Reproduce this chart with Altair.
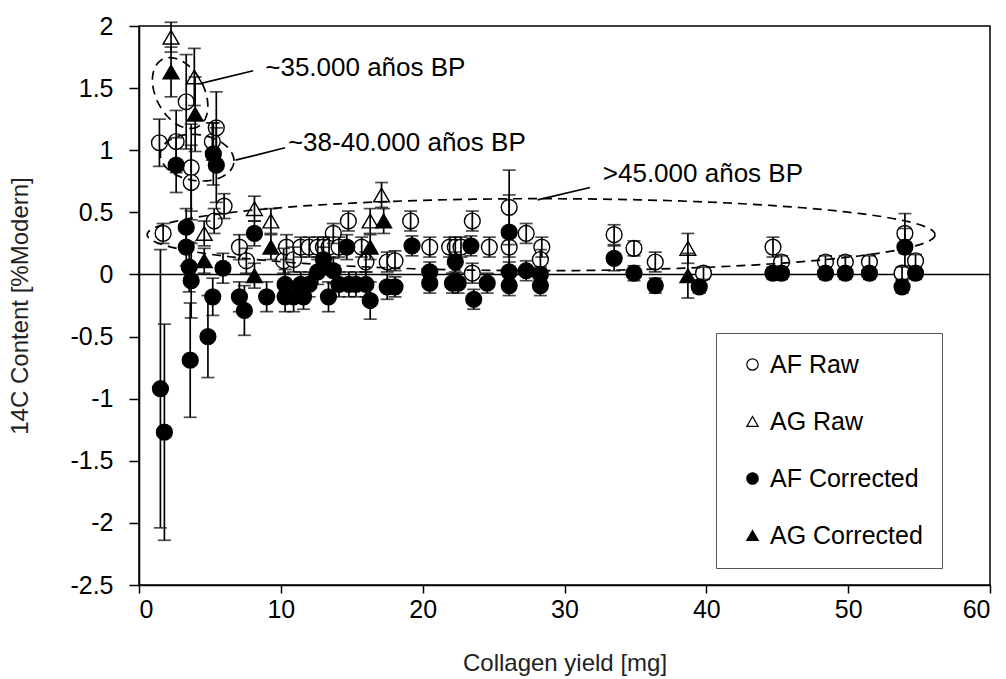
import altair as alt
import numpy as np
import pandas as pd

FONT = "Liberation Sans"

# ---------------- data ----------------
AF_RAW_X = [1.44, 1.70, 2.62, 3.33, 3.68, 3.68, 5.17, 5.45, 6.00, 5.30,
            7.08, 7.57, 10.2, 10.4, 10.9, 11.4, 12.0, 12.6, 13.0, 13.4,
            13.7, 14.1, 14.76, 15.7, 16.0, 17.5, 18.05, 19.15, 20.5, 21.9,
            22.3, 22.7, 23.5, 23.5, 24.7, 26.1, 26.1, 27.3, 28.4, 28.3,
            33.5, 34.9, 36.4, 39.8, 44.7, 45.3, 48.4, 49.8, 51.5, 54.0,
            53.8, 54.75]
AF_RAW_Y = [1.06, 0.33, 1.07, 1.39, 0.86, 0.74, 1.07, 1.18, 0.55, 0.43,
            0.22, 0.11, 0.11, 0.22, 0.12, 0.22, 0.22, 0.22, 0.22, 0.22,
            0.33, 0.22, 0.43, 0.22, 0.10, 0.10, 0.11, 0.43, 0.22, 0.22,
            0.22, 0.22, 0.43, 0.01, 0.22, 0.54, 0.22, 0.33, 0.22, 0.12,
            0.32, 0.21, 0.10, 0.01, 0.22, 0.10, 0.10, 0.10, 0.10, 0.33,
            0.01, 0.11]
AF_RAW_E = [0.19, 0.08, 0.25, 0.38, 0.35, 0.30, 0.15, 0.29, 0.10, 0.10,
            0.10, 0.10, 0.10, 0.10, 0.10, 0.08, 0.08, 0.08, 0.08, 0.08,
            0.08, 0.08, 0.08, 0.08, 0.08, 0.08, 0.08, 0.08, 0.08, 0.08,
            0.08, 0.08, 0.08, 0.08, 0.08, 0.30, 0.08, 0.08, 0.08, 0.08,
            0.08, 0.06, 0.08, 0.05, 0.08, 0.05, 0.05, 0.05, 0.05, 0.16,
            0.05, 0.05]

AF_COR_X = [1.51, 1.79, 2.62, 3.33, 3.33, 3.54, 3.68, 3.61, 4.86, 5.24,
            5.45, 5.92, 5.20, 7.08, 7.43, 8.14, 9.0, 10.3, 10.3, 10.9,
            11.4, 11.6, 12.0, 12.6, 13.0, 13.36, 13.7, 14.1, 14.65, 14.8,
            15.3, 16.3, 16.0, 17.5, 18.05, 19.25, 20.5, 20.5, 22.1, 22.5,
            22.3, 23.4, 23.6, 24.55, 26.1, 26.1, 26.1, 27.3, 28.3, 28.3,
            33.5, 34.9, 36.4, 39.5, 44.7, 45.3, 48.4, 49.8, 51.5, 54.0,
            53.8, 54.75]
AF_COR_Y = [-0.92, -1.27, 0.88, 0.38, 0.22, 0.06, -0.05, -0.69, -0.50, 0.97,
            0.88, 0.05, -0.18, -0.18, -0.29, 0.33, -0.18, -0.08, -0.18, -0.18,
            -0.08, -0.18, -0.08, 0.02, 0.12, -0.18, 0.03, -0.08, 0.22, -0.08,
            -0.08, -0.21, -0.08, -0.10, -0.10, 0.23, -0.07, 0.02, -0.07, -0.07,
            0.10, 0.23, -0.20, -0.07, 0.34, -0.09, 0.02, 0.03, -0.09, 0.00,
            0.13, 0.01, -0.09, -0.10, 0.01, 0.01, 0.01, 0.01, 0.01, 0.22,
            -0.10, 0.01]
AF_COR_E = [1.12, 0.87, 0.22, 0.15, 0.15, 0.20, 0.30, 0.46, 0.33, 0.25,
            0.30, 0.12, 0.15, 0.12, 0.20, 0.10, 0.12, 0.12, 0.12, 0.12,
            0.10, 0.10, 0.10, 0.10, 0.10, 0.12, 0.10, 0.10, 0.10, 0.10,
            0.10, 0.15, 0.10, 0.10, 0.08, 0.08, 0.08, 0.08, 0.08, 0.08,
            0.08, 0.08, 0.08, 0.08, 0.30, 0.08, 0.08, 0.08, 0.08, 0.06,
            0.10, 0.06, 0.06, 0.05, 0.05, 0.05, 0.05, 0.05, 0.05, 0.15,
            0.05, 0.05]

AG_RAW_X = [2.26, 3.90, 4.60, 8.14, 9.30, 16.3, 17.1, 38.7]
AG_RAW_Y = [1.91, 1.59, 0.33, 0.53, 0.43, 0.43, 0.64, 0.21]
AG_RAW_E = [0.12, 0.23, 0.10, 0.10, 0.10, 0.10, 0.10, 0.12]

AG_COR_X = [2.26, 3.96, 4.60, 8.14, 9.30, 16.3, 17.25, 38.7]
AG_COR_Y = [1.63, 1.29, 0.11, -0.01, 0.22, 0.22, 0.43, -0.01]
AG_COR_E = [0.20, 0.30, 0.10, 0.10, 0.10, 0.10, 0.10, 0.18]

SERIES = ["AF Raw", "AG Raw", "AF Corrected", "AG Corrected"]
SHAPES = ["circle", "triangle-up", "circle", "triangle-up"]
FILLS = ["white", "white", "black", "black"]
STROKES = ["black", "black", "black", "black"]

X_TICKS = [0, 10, 20, 30, 40, 50, 60]
Y_TICKS = [-2.5, -2, -1.5, -1, -0.5, 0, 0.5, 1, 1.5, 2]

# annotations (text, x, y) and leader lines (x, y, x2, y2)
ANN_TEXT = ["~35.000 años BP", "~38-40.000 años BP", ">45.000 años BP"]
ANN_X = [8.9, 10.5, 32.7]
ANN_Y = [1.66, 1.06, 0.81]
LEAD_X = [4.45, 6.8, 28.1]
LEAD_Y = [1.54, 0.92, 0.60]
LEAD_X2 = [8.05, 10.3, 31.8]
LEAD_Y2 = [1.64, 1.02, 0.70]

# dashed ellipses: centre x, centre y (data), semi-axes (px), rotation (deg)
ELL_CX = [2.90, 4.10, 28.35]
ELL_CY = [1.46, 0.94, 0.32]
ELL_A = [38, 37, 394]
ELL_B = [24, 23, 36]
ELL_ROT = [62, 8, 0]

W, H = 851, 559
PX_X = W / 60.0
PX_Y = H / 4.5

# ---------------- frames ----------------
def mk(name, xs, ys, es):
    d = pd.DataFrame({"x": xs, "y": ys, "err": es})
    d["series"] = name
    d["lo"] = d["y"] - d["err"]
    d["hi"] = d["y"] + d["err"]
    return d

af_raw = mk("AF Raw", AF_RAW_X, AF_RAW_Y, AF_RAW_E)
ag_raw = mk("AG Raw", AG_RAW_X, AG_RAW_Y, AG_RAW_E)
af_cor = mk("AF Corrected", AF_COR_X, AF_COR_Y, AF_COR_E)
ag_cor = mk("AG Corrected", AG_COR_X, AG_COR_Y, AG_COR_E)
raw = pd.concat([af_raw, ag_raw], ignore_index=True)
cor = pd.concat([af_cor, ag_cor], ignore_index=True)
allp = pd.concat([raw, cor], ignore_index=True)
caps = pd.concat([
    allp[["x", "lo"]].rename(columns={"lo": "y"}),
    allp[["x", "hi"]].rename(columns={"hi": "y"}),
], ignore_index=True)
bars_df = allp[["x", "lo", "hi"]].rename(columns={"lo": "y", "hi": "y2"})

ell_rows = []
t = np.linspace(0, 2 * np.pi, 120)
for i in range(len(ELL_CX)):
    r = np.deg2rad(ELL_ROT[i])
    px = ELL_A[i] * np.cos(t) * np.cos(r) - ELL_B[i] * np.sin(t) * np.sin(r)
    py = ELL_A[i] * np.cos(t) * np.sin(r) + ELL_B[i] * np.sin(t) * np.cos(r)
    for k in range(len(t)):
        ell_rows.append({"e": i, "k": k,
                         "x": ELL_CX[i] + px[k] / PX_X,
                         "y": ELL_CY[i] - py[k] / PX_Y})
ell = pd.DataFrame(ell_rows)

ann = pd.DataFrame({"t": ANN_TEXT, "x": ANN_X, "y": ANN_Y})
lead = pd.DataFrame({"x": LEAD_X, "y": LEAD_Y, "x2": LEAD_X2, "y2": LEAD_Y2})
zero = pd.DataFrame({"x": [0], "y": [0]})

# ---------------- scales / axes ----------------
xs = alt.Scale(domain=[0, 60], nice=False, zero=False)
ys = alt.Scale(domain=[-2.5, 2], nice=False, zero=False)

x_axis = alt.Axis(values=X_TICKS, title="Collagen yield [mg]", grid=False,
                  labelFontSize=25, labelFont=FONT, labelColor="black",
                  tickSize=8, tickColor="black", domainColor="black",
                  tickWidth=1.5, domainWidth=1.5,
                  labelPadding=4, titleFontSize=24, titleFont=FONT,
                  titleFontWeight="normal", titleColor="#222",
                  titleX=W / 2, titleY=78, titleBaseline="middle")
y_axis = alt.Axis(values=Y_TICKS, title="14C Content [%Modern]", grid=False,
                  labelExpr="toString(datum.value)",
                  labelFontSize=25, labelFont=FONT, labelColor="black",
                  tickSize=10, tickColor="black", domainColor="black",
                  tickWidth=1.5, domainWidth=1.5,
                  labelPadding=16, titleFontSize=24, titleFont=FONT,
                  titleFontWeight="normal", titleColor="#222",
                  titleX=-119, titleY=H / 2, titleBaseline="middle",
                  titleAngle=-90, titleAlign="center")

X = alt.X("x:Q", scale=xs, axis=x_axis)
Y = alt.Y("y:Q", scale=ys, axis=y_axis)

legend = alt.Legend(title=None, orient="none", legendX=577, legendY=307,
                    padding=19, rowPadding=31, labelFontSize=25,
                    labelFont=FONT, labelColor="black", labelOffset=5,
                    symbolSize=130, symbolStrokeColor="black",
                    symbolStrokeWidth=1.2, strokeColor="#555",
                    fillColor="white", symbolOffset=5)
shape_enc = alt.Shape("series:N", scale=alt.Scale(domain=SERIES, range=SHAPES),
                      legend=legend)
fill_enc = alt.Fill("series:N", scale=alt.Scale(domain=SERIES, range=FILLS),
                    legend=legend)
stroke_enc = alt.Stroke("series:N",
                        scale=alt.Scale(domain=SERIES, range=STROKES),
                        legend=legend)

zero_line = alt.Chart(zero).mark_rule(color="black", strokeWidth=1.5).encode(
    y=Y)

open_pts = alt.Chart(raw).mark_point(filled=True, strokeWidth=1.4, opacity=1,
                                      size=250).encode(
    x=X, y=Y, shape=shape_enc, fill=fill_enc, stroke=stroke_enc)

bars = alt.Chart(bars_df).mark_rule(color="black", strokeWidth=1.7).encode(
    x=X, y=Y, y2="y2:Q")
cap_marks = alt.Chart(caps).mark_tick(orient="horizontal", size=13,
                                      thickness=1.7, color="black").encode(
    x=X, y=Y)

filled_pts = alt.Chart(cor).mark_point(filled=True, strokeWidth=1.4,
                                        opacity=1, size=250).encode(
    x=X, y=Y, shape=shape_enc, fill=fill_enc, stroke=stroke_enc)

ellipses = alt.Chart(ell).mark_line(color="black", strokeWidth=1.7,
                                    strokeDash=[9, 6]).encode(
    x=X, y=Y, detail="e:N", order="k:Q")

leaders = alt.Chart(lead).mark_rule(color="black", strokeWidth=1.7).encode(
    x=X, y=Y, x2="x2:Q", y2="y2:Q")

labels = alt.Chart(ann).mark_text(align="left", baseline="middle",
                                  fontSize=26, font=FONT,
                                  color="black").encode(
    x=X, y=Y, text="t:N")

chart = alt.layer(zero_line, open_pts, bars, cap_marks, filled_pts,
                  ellipses, leaders, labels).properties(
    width=W, height=H,
    autosize=alt.AutoSizeParams(type="none"),
    padding={"left": 139, "top": 26, "right": 16, "bottom": 94},
    background="white",
).configure_view(stroke="black", strokeWidth=1.5)

chart.save("out.html", embed_options={"renderer": "svg", "actions": False})
